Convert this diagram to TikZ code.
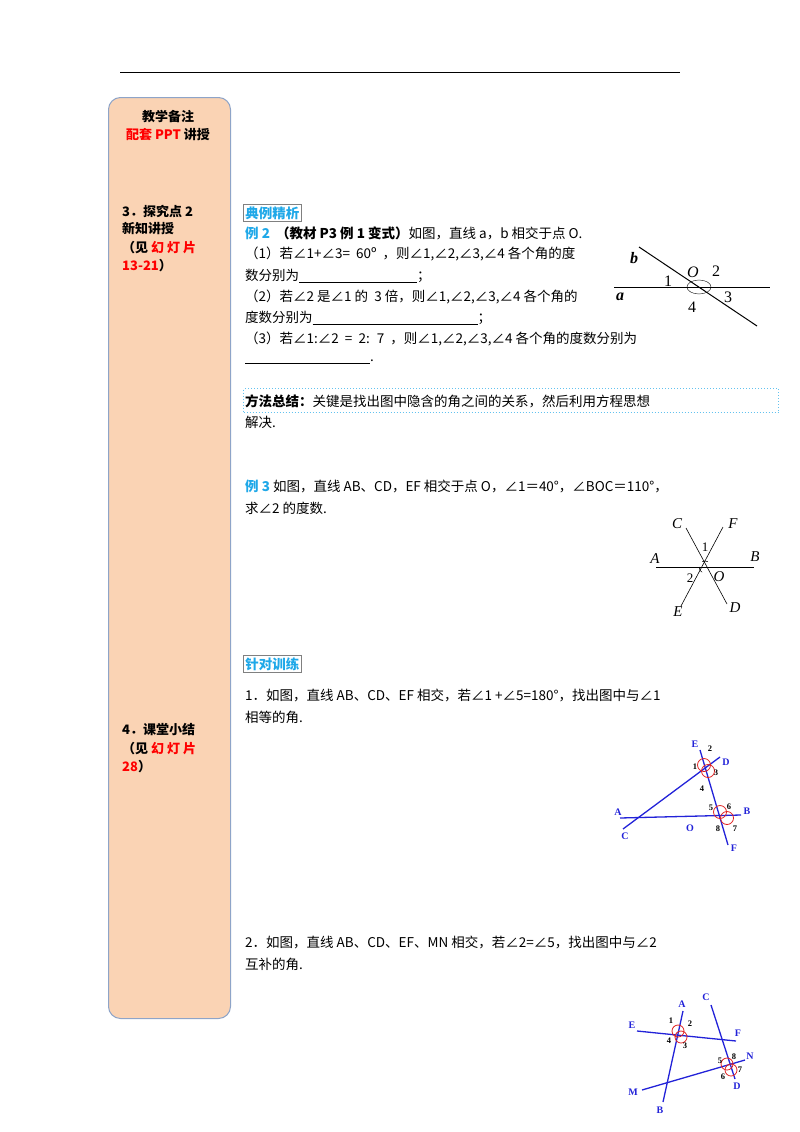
\documentclass[tikz,border=0pt]{standalone}
\usepackage{fontspec}
\setmainfont{Liberation Serif}
\newfontfamily\cjk{Noto Sans CJK SC}
\definecolor{peach}{HTML}{FAD3B4}
\definecolor{sideline}{HTML}{8EA4C8}
\definecolor{tblue}{HTML}{1FA8E8}
\definecolor{fblue}{HTML}{2222D8}
\definecolor{fred}{HTML}{E02020}
\begin{document}
\begin{tikzpicture}[x=1pt,y=-1pt,
  tx/.style={anchor=west,inner sep=0pt,font=\cjk\fontsize{13.5}{15}\selectfont},
  sd/.style={anchor=west,inner sep=0pt,font=\cjk\bfseries\fontsize{13}{15}\selectfont},
  lab/.style={inner sep=0pt,font=\itshape\fontsize{15}{16}\selectfont},
  bl/.style={fblue,line width=1.3pt},
  bn/.style={inner sep=0pt,font=\bfseries\fontsize{10}{11}\selectfont,fblue},
  bnum/.style={inner sep=0pt,font=\bfseries\fontsize{8.5}{9}\selectfont},
  rc/.style={fred,line width=0.8pt}]
\useasboundingbox (0,0) rectangle (800,1132);
\draw[line width=0.8pt] (120,72) -- (680,72);
\node[draw=sideline,fill=peach,rounded corners=12pt,line width=1pt,minimum width=122pt,minimum height=921pt,anchor=north west] (side) at (108,97) {};
% sidebar texts
\node[sd,anchor=center] (s1) at (168,117) {教学备注};
\node[sd,anchor=center] (s2) at (168,135) {\textcolor{red}{配套 PPT} 讲授};
\node[sd] (s3) at (122,211) {3．探究点 2};
\node[sd] (s4) at (122,229) {新知讲授};
\node[sd] (s5) at (122,248) {（见 \textcolor{red}{幻 灯 片}};
\node[sd] (s6) at (122,266) {\textcolor{red}{13-21}）};
\node[sd] (s7) at (122,730) {4．课堂小结};
\node[sd] (s8) at (122,749) {（见 \textcolor{red}{幻 灯 片}};
\node[sd] (s9) at (122,767) {\textcolor{red}{28}）};
% section headers
\node[tx,draw=gray,line width=0.8pt,inner sep=2pt,text=tblue,font=\cjk\bfseries\fontsize{13.5}{15}\selectfont] (h1) at (243,213) {典例精析};
\node[tx] (l1) at (245,233) {\textcolor{tblue}{\bfseries 例 2} \ {\bfseries （教材 P3 例 1 变式）}如图，直线 a，b 相交于点 O.};
\node[tx] (l2) at (245,254) {（1）若∠1+∠3= \ 60º \ ，则∠1,∠2,∠3,∠4 各个角的度};
\node[tx] (l3) at (245,276) {数分别为\underline{\hspace{118pt}}；};
\node[tx] (l4) at (245,297) {（2）若∠2 是∠1 的 \ 3 倍，则∠1,∠2,∠3,∠4 各个角的};
\node[tx] (l5) at (245,318) {度数分别为\underline{\hspace{165pt}}；};
\node[tx] (l6) at (245,339) {（3）若∠1:∠2 \ = \ 2: \ 7 \ ，则∠1,∠2,∠3,∠4 各个角的度数分别为};
\node[tx] (l7) at (245,362) {\underline{\hspace{125pt}}.};
\node[draw=tblue!70,dotted,line width=1pt,minimum width=535pt,minimum height=24pt,anchor=north west,inner sep=0pt] (box) at (243,388) {};
\node[tx] (l8) at (245,401) {{\bfseries 方法总结：}关键是找出图中隐含的角之间的关系，然后利用方程思想};
\node[tx] (l9) at (245,422) {解决.};
\node[tx] (l10) at (245,486) {\textcolor{tblue}{\bfseries 例 3} 如图，直线 AB、CD，EF 相交于点 O，∠1＝40°，∠BOC＝110°，};
\node[tx] (l11) at (245,508) {求∠2 的度数.};
\node[tx,draw=gray,line width=0.8pt,inner sep=2pt,text=tblue,font=\cjk\bfseries\fontsize{13.5}{15}\selectfont] (h2) at (243,664) {针对训练};
\node[tx] (l12) at (245,695) {1．如图，直线 AB、CD、EF 相交，若∠1 +∠5=180°，找出图中与∠1};
\node[tx] (l13) at (245,717) {相等的角.};
\node[tx] (l14) at (245,942) {2．如图，直线 AB、CD、EF、MN 相交，若∠2=∠5，找出图中与∠2};
\node[tx] (l15) at (245,964) {互补的角.};
% figure a b
\coordinate (a1) at (614,287); \coordinate (a2) at (770,287);
\coordinate (b1) at (639,247); \coordinate (b2) at (757,326);
\coordinate (O) at (699,287);
\draw[line width=1pt] (a1) -- (a2); \draw[line width=1pt] (b1) -- (b2);
\draw (O) ellipse (12pt and 7pt);
\node[lab,font=\bfseries\itshape\fontsize{16}{17}\selectfont] (lb) at (634,258) {b};
\node[lab,font=\bfseries\itshape\fontsize{16}{17}\selectfont] (la) at (620,297) {a};
\node[lab,font=\fontsize{16}{17}\selectfont] (n1) at (668,281) {1};
\node[lab,font=\itshape\fontsize{16}{17}\selectfont] (nO) at (693,272) {O};
\node[lab,font=\fontsize{16}{17}\selectfont] (n2) at (716,271) {2};
\node[lab,font=\fontsize{16}{17}\selectfont] (n3) at (728,297) {3};
\node[lab,font=\fontsize{16}{17}\selectfont] (n4) at (692,307) {4};
% figure ex3
\coordinate (P) at (705,567);
\draw[line width=0.6pt] (656,567) -- (754,567);
\draw[line width=0.6pt] (686,528) -- (727,604);
\draw[line width=0.6pt] (681,606) -- (723,527);
\draw[line width=0.5pt] ([shift={(62:6pt)}]P) arc[start angle=62,end angle=118,radius=6pt];
\draw[line width=0.5pt] ([shift={(180:6pt)}]P) arc[start angle=180,end angle=242,radius=6pt];
\node[lab] (A3) at (655,559) {A}; \node[lab] (B3) at (755,557) {B};
\node[lab] (C3) at (677,524) {C}; \node[lab] (F3) at (733,524) {F};
\node[lab] (E3) at (678,612) {E}; \node[lab] (D3) at (735,608) {D};
\node[lab,font=\fontsize{13}{14}\selectfont] (m1) at (705,547) {1};
\node[lab,font=\fontsize{13}{14}\selectfont] (m2) at (690,578) {2};
\node[lab] (O3) at (719,577) {O};
% blue fig 1
\draw[bl] (700,750) -- (728,845);
\draw[bl] (623,829) -- (720,757);
\draw[bl] (620,818) -- (741,815);
\draw[rc] (704,765) circle (6.5pt); \draw[rc] (708,771) circle (6.5pt);
\draw[rc] (720,812) circle (6.5pt); \draw[rc] (727,818) circle (6.5pt);
\node[bn] (E1) at (695,744) {E}; \node[bn] (D1) at (726,762) {D};
\node[bn] (A1) at (618,812) {A}; \node[bn] (B1) at (747,811) {B};
\node[bn] (C1) at (625,836) {C}; \node[bn] (O1) at (690,828) {O};
\node[bn] (F1) at (734,848) {F};
\node[bnum] (q2) at (710,749) {2}; \node[bnum] (q1) at (695,767) {1};
\node[bnum] (q3) at (716,773) {3}; \node[bnum] (q4) at (702,789) {4};
\node[bnum] (q5) at (711,808) {5}; \node[bnum] (q6) at (729,807) {6};
\node[bnum] (q8) at (718,829) {8}; \node[bnum] (q7) at (735,829) {7};
% blue fig 2
\draw[bl] (683,1011) -- (663,1102);
\draw[bl] (637,1031) -- (736,1041);
\draw[bl] (711,1005) -- (735,1079);
\draw[bl] (642,1090) -- (745,1060);
\draw[rc] (678,1031) circle (6pt); \draw[rc] (681,1037) circle (6pt);
\draw[rc] (727,1064) circle (6pt); \draw[rc] (731,1070) circle (6pt);
\node[bn] (A2) at (682,1004) {A}; \node[bn] (B2) at (660,1110) {B};
\node[bn] (E2) at (632,1025) {E}; \node[bn] (F2) at (738,1033) {F};
\node[bn] (C2) at (706,997) {C}; \node[bn] (D2) at (737,1086) {D};
\node[bn] (M2) at (633,1092) {M}; \node[bn] (N2) at (750,1056) {N};
\node[bnum] (r1) at (671,1021) {1}; \node[bnum] (r2) at (690,1024) {2};
\node[bnum] (r4) at (669,1041) {4}; \node[bnum] (r3) at (685,1046) {3};
\node[bnum] (r5) at (720,1061) {5}; \node[bnum] (r8) at (734,1057) {8};
\node[bnum] (r6) at (723,1077) {6}; \node[bnum] (r7) at (740,1070) {7};
\end{tikzpicture}
\end{document}
